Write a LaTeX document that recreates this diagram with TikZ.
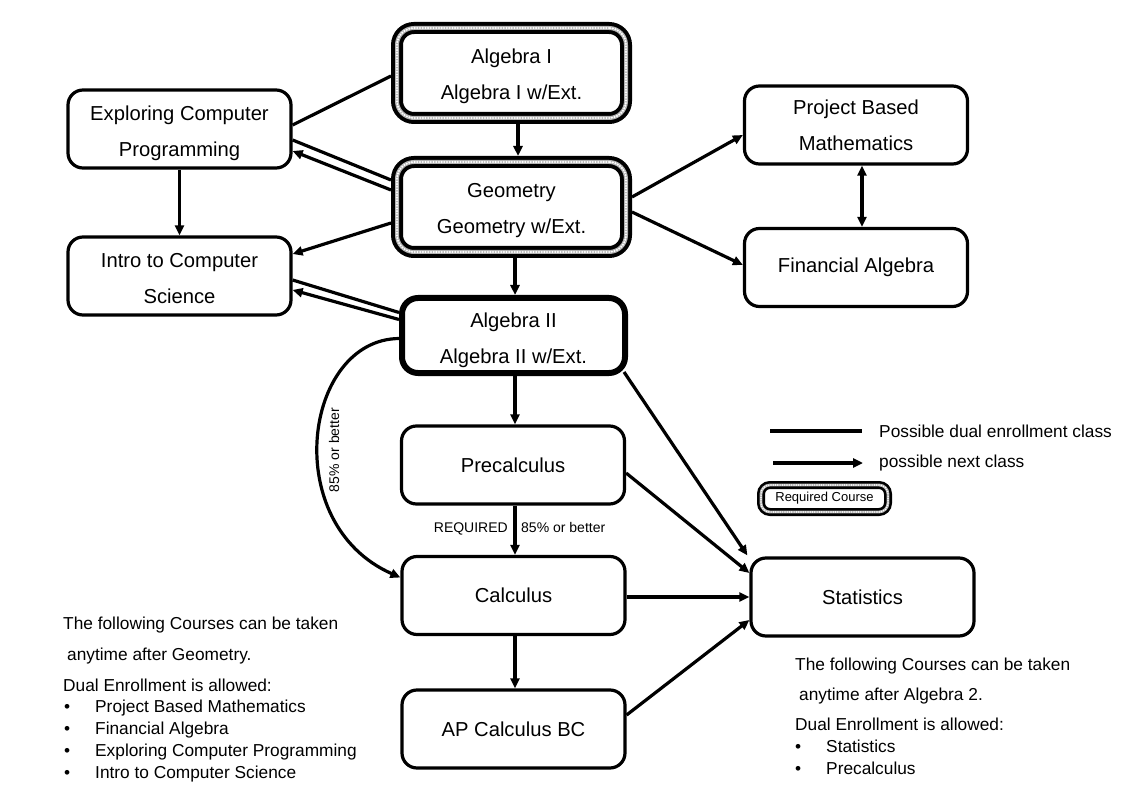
\documentclass[tikz,border=0pt]{standalone}
\usepackage{fontspec}
\setmainfont{Liberation Sans}
\usetikzlibrary{arrows.meta,calc,backgrounds}
\newcommand\bxfont{\fontsize{20.2}{36}\selectfont}
\newcommand\smfont{\fontsize{14}{16}\selectfont}
\newcommand\ntfont{\fontsize{17.3}{20}\selectfont}
\newcommand\strt[1]{\rule{0pt}{#1pt}}
\begin{document}
\begin{tikzpicture}[x=1pt,y=-1pt,
 box/.style={draw=black, line width=3.2pt, fill=white, rounded corners=15pt, minimum width=223pt, minimum height=78pt, inner sep=0pt, align=center, font=\bxfont},
 reqbox/.style={draw=black, line width=12pt, fill=white, rounded corners=17pt, minimum width=229pt, minimum height=90pt, inner sep=0pt, align=center, font=\bxfont,
   postaction={draw=gray!60, line width=4pt},
   postaction={draw=white, line width=2.3pt, line cap=round, dash pattern=on 0pt off 2.7pt}},
 legreq/.style={draw=black, line width=8pt, fill=white, rounded corners=9pt, minimum width=127pt, minimum height=27pt, inner sep=0pt, font=\fontsize{13}{14}\selectfont,
   postaction={draw=gray!60, line width=2.8pt},
   postaction={draw=white, line width=1.7pt, line cap=round, dash pattern=on 0pt off 2.3pt}},
 thickbox/.style={draw=black, line width=6pt, fill=white, rounded corners=16pt, minimum width=223pt, minimum height=75pt, inner sep=0pt, align=center, font=\bxfont},
 conn/.style={line width=3.2pt},
 tip/.tip={Triangle[length=10pt,width=9pt]},
 arr/.style={conn, -tip},
 note/.style={anchor=base west, inner sep=0pt, font=\ntfont},
 smalltxt/.style={inner sep=0pt, font=\smfont},
 legtxt/.style={anchor=west, inner sep=0pt, font=\ntfont}]
\useasboundingbox (0,0) rectangle (1124,791);

% course boxes
\node[reqbox] (alg1) at (511.5,73) {\strt{22}Algebra I\\Algebra I w/Ext.};
\node[reqbox] (geo) at (511.5,207) {\strt{22}Geometry\\Geometry w/Ext.};
\node[thickbox] (alg2) at (513.5,335.5) {\strt{24}Algebra II\\Algebra II w/Ext.};
\node[box] (ecp) at (179.5,129) {\strt{24}Exploring Computer\\Programming};
\node[box] (ics) at (179.5,276) {\strt{20}Intro to Computer\\Science};
\node[box] (pbm) at (856,125) {Project Based\\Mathematics};
\node[box] (fa) at (856,267.5) {Financial Algebra};
\node[box] (pre) at (513,465) {\strt{16}Precalculus};
\node[box] (calc) at (513.5,595.5) {Calculus};
\node[box] (apc) at (513.5,729) {AP Calculus BC};
\node[box] (stat) at (862.5,597) {Statistics};

% labels
\node[smalltxt, anchor=base east] (lreq) at (508,532) {REQUIRED};
\node[smalltxt, anchor=base west] (l85) at (521,532) {85\% or better};
\node[smalltxt, rotate=90] (lcurve) at (334,450) {85\% or better};

% legend
\coordinate (lg1a) at (770,431);
\coordinate (lg1b) at (862,431);
\node[legtxt] (lgt1) at (879,431) {Possible dual enrollment class};
\coordinate (lg2a) at (773,463);
\coordinate (lg2b) at (863,463);
\node[legtxt] (lgt2) at (879,463) {possible next class};
\node[legreq] (lgreq) at (824.5,498.5) {Required Course};

% notes left
\node[note] (n1) at (63,629) {The following Courses can be taken};
\node[note] (n2) at (67,660) {anytime after Geometry.};
\node[note] (n3) at (63,691) {Dual Enrollment is allowed:};
\node[note] (b1) at (64,712) {•};
\node[note] (i1) at (95,712) {Project Based Mathematics};
\node[note] (b2) at (64,734) {•};
\node[note] (i2) at (95,734) {Financial Algebra};
\node[note] (b3) at (64,756) {•};
\node[note] (i3) at (95,756) {Exploring Computer Programming};
\node[note] (b4) at (64,778) {•};
\node[note] (i4) at (95,778) {Intro to Computer Science};

% notes right
\node[note] (m1) at (795,670) {The following Courses can be taken};
\node[note] (m2) at (799,700) {anytime after Algebra 2.};
\node[note] (m3) at (795,730) {Dual Enrollment is allowed:};
\node[note] (c1) at (795,752) {•};
\node[note] (j1) at (826,752) {Statistics};
\node[note] (c2) at (795,774) {•};
\node[note] (j2) at (826,774) {Precalculus};

\begin{scope}[on background layer]
\fill[white] (0,0) rectangle (1124,791);
\draw[conn] ($(ecp.east)+(0,-4)$) -- ($(alg1.west)+(0,3)$);
\draw[conn] ($(ecp.east)+(0,11)$) -- ($(geo.west)+(0,-27)$);
\draw[arr] ($(geo.west)+(0,-17)$) -- ($(ecp.east)+(0,22)$);
\draw[arr] (ecp.south) -- (ics.north);
\draw[arr] ($(geo.west)+(0,16)$) -- ($(ics.east)+(0,-22)$);
\draw[conn] ($(ics.east)+(0,4)$) -- ($(alg2.west)+(0,-23)$);
\draw[arr] ($(alg2.west)+(0,-16)$) -- ($(ics.east)+(0,14)$);
\draw[arr] ($(alg1.south)+(6.5,0)$) -- ($(geo.north)+(6.5,0)$);
\draw[arr] ($(geo.south)+(3.5,0)$) -- ($(alg2.north)+(1.5,0)$);
\draw[arr] ($(geo.east)+(0,-10)$) -- ($(pbm.west)+(0,10)$);
\draw[arr] ($(geo.east)+(0,5)$) -- ($(fa.west)+(0,-2.5)$);
\draw[conn, tip-tip] ($(pbm.south)+(6,0)$) -- ($(fa.north)+(6,0)$);
\draw[arr] ($(alg2.south)+(1.5,0)$) -- ($(pre.north)+(2,0)$);
\draw[arr] ($(alg2.south east)+(-4,-4)$) -- ($(stat.north west)+(-2,-1)$);
\draw[arr] ($(pre.east)+(0,8)$) -- ($(stat.west)+(0,-24)$);
\draw[arr] ($(pre.south)+(2,0)$) -- ($(calc.north)+(1.5,0)$);
\draw[arr] ($(calc.east)+(0,1.5)$) -- (stat.west);
\draw[arr] ($(calc.south)+(1.5,0)$) -- ($(apc.north)+(1.5,0)$);
\draw[arr] ($(apc.east)+(0,-14)$) -- ($(stat.west)+(0,23)$);
\draw[arr] ($(alg2.west)+(0,3)$) .. controls ($(alg2.west)+(-95,4)$) and ($(calc.west)+(-122,-72)$) .. ($(calc.west)+(0,-18)$);
\draw[line width=4.5pt] (lg1a) -- (lg1b);
\draw[conn, line width=3.4pt, -tip] (lg2a) -- (lg2b);
\end{scope}
\end{tikzpicture}
\end{document}
